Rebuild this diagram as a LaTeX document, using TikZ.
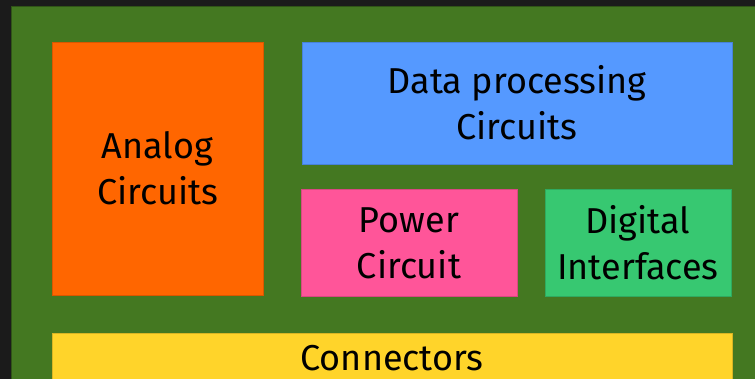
\documentclass[tikz,border=0pt]{standalone}
\usepackage{fontspec}
\setmainfont{Fira Sans}
\usepackage{tikz}
\usetikzlibrary{positioning}
\definecolor{bgDark}{HTML}{1B1B1B}
\definecolor{boardGreen}{HTML}{447821}
\definecolor{analogOrange}{HTML}{FF6600}
\definecolor{dataBlue}{HTML}{5599FF}
\definecolor{powerPink}{HTML}{FF5599}
\definecolor{digitalGreen}{HTML}{37C871}
\definecolor{connYellow}{HTML}{FFD42A}
\tikzset{
  block/.style={draw=#1!85!black, fill=#1, line width=0.8pt, align=center,
                inner sep=0pt, text=black, font=\fontsize{36}{46}\selectfont},
}
\begin{document}
\begin{tikzpicture}[x=1pt, y=-1pt]
    \useasboundingbox (0,0) rectangle (755,379);
    \clip (0,0) rectangle (755,379);
    \fill[bgDark] (0,0) rectangle (755,379);
    \draw[boardGreen!70!black, fill=boardGreen, line width=1pt] (11.5,6.5) rectangle (800,420);
    \node[block=analogOrange, minimum width=211pt, minimum height=253pt] (analog)
      at (157.5,168.5) {Analog\\Circuits};
    \node[block=dataBlue, minimum width=430pt, minimum height=122pt] (data)
      at (517,103) {Data processing\\Circuits};
    \node[block=powerPink, minimum width=216pt, minimum height=107pt] (power)
      at (409,243) {Power\\Circuit};
    \node[block=digitalGreen, minimum width=186pt, minimum height=107pt] (digital)
      at (638,243) {Digital\\Interfaces};
    \node[block=connYellow, minimum width=680pt, minimum height=50pt] (conn)
      at (392,358) {Connectors};
  \end{tikzpicture}
\end{document}
